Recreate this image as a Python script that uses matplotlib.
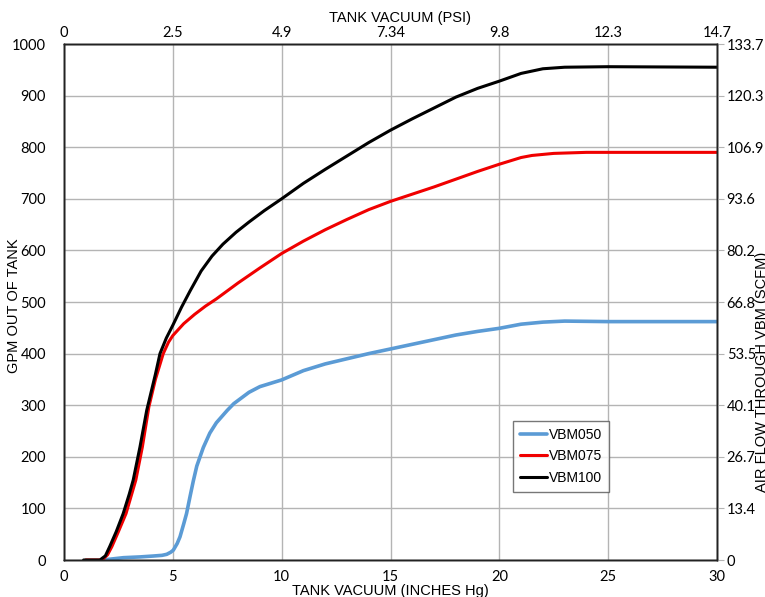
import matplotlib.pyplot as plt
from matplotlib.ticker import FixedLocator

# chart values
vac_050 = [1.8, 2.2, 2.73, 3.5, 4.1, 4.5, 4.72, 4.9, 5.02, 5.2, 5.33, 5.5, 5.63, 5.8, 5.94,
           6.1, 6.4, 6.7, 7.0, 7.5, 7.8, 8.5, 9.0, 10, 11, 12, 13, 14, 15, 16, 17, 18, 19,
           20, 21, 22, 23, 25, 30]
gpm_050 = [0, 2, 4.5, 6, 7.7, 9, 11, 15, 19, 32, 45, 70, 90, 125, 153,
           182, 218, 246, 266, 290, 303, 325, 336, 349, 367, 380, 390, 400, 409, 418, 427,
           436, 443, 449, 457, 461, 463, 462, 462]

vac_075 = [1.0, 1.75, 2.0, 2.2, 2.5, 2.85, 3.3, 3.6, 3.9, 4.2, 4.56, 4.8, 5.0, 5.5, 6.0,
           6.5, 7.0, 8.0, 9.0, 10, 11, 12, 13, 14, 15, 16, 17, 18, 19, 20, 21, 21.5, 22.5,
           24, 30]
gpm_075 = [0, 0, 10, 26, 55, 90, 155, 219, 297, 350, 400, 422, 435, 458, 476,
           492, 506, 537, 566, 594, 618, 640, 660, 679, 695, 709, 723, 738, 753, 767, 780,
           784, 788, 790, 790]

vac_100 = [0.9, 1.65, 1.9, 2.1, 2.4, 2.72, 3.0, 3.18, 3.49, 3.8, 4.0, 4.2, 4.41, 4.7, 5.0,
           5.4, 5.8, 6.3, 6.8, 7.3, 7.9, 8.5, 9.2, 10, 11, 12, 13, 14, 15, 16, 17, 18, 19,
           20, 21, 22, 23, 25, 30]
gpm_100 = [0, 0, 8, 26, 55, 90, 128, 155, 219, 290, 325, 360, 400, 430, 455,
           490, 522, 560, 589, 612, 635, 655, 677, 700, 730, 757, 783, 809, 833, 855, 876,
           897, 914, 928, 943, 952, 955, 956, 955]

hg_ticks = [0, 5, 10, 15, 20, 25, 30]
psi_labels = ["0", "2.5", "4.9", "7.34", "9.8", "12.3", "14.7"]
scfm_ticks = [0, 13.4, 26.7, 40.1, 53.5, 66.8, 80.2, 93.6, 106.9, 120.3, 133.7]

tick_font = dict(family="Lato", size=10.5)
label_font = dict(family="Liberation Sans", size=10.5)
spine_col = "#222222"
grid_col = "#b4b4b4"

fig = plt.figure(figsize=(7.65, 5.97), dpi=100)
ax = fig.add_axes([64 / 765, 1 - 560 / 597, 653 / 765, 516 / 597])

line_kw = dict(solid_capstyle="round", solid_joinstyle="round")
ax.plot(vac_050, gpm_050, color="#5b9bd5", lw=2.6, label="VBM050", **line_kw)
ax.plot(vac_075, gpm_075, color="#f00000", lw=2.2, label="VBM075", **line_kw)
ax.plot(vac_100, gpm_100, color="black", lw=2.2, label="VBM100", **line_kw)

ax.set_xlim(0, 30)
ax.set_ylim(0, 1000)
ax.set_xticks(hg_ticks)
ax.set_yticks(range(0, 1001, 100))
ax.grid(True, color=grid_col, lw=1)
ax.set_axisbelow(True)
ax.tick_params(length=0)
ax.tick_params(axis="y", pad=13)
ax.tick_params(axis="x", pad=7)
for t in ax.get_xticklabels() + ax.get_yticklabels():
    t.set_fontfamily(tick_font["family"])
    t.set_fontsize(tick_font["size"])

ax.set_xlabel("TANK VACUUM (INCHES Hg)", **label_font, labelpad=0)
fig.text(14 / 765, 1 - 306 / 597, "GPM OUT OF TANK", rotation=90,
         ha="center", va="center", **label_font)

top = ax.twiny()
top.set_xlim(ax.get_xlim())
top.xaxis.set_major_locator(FixedLocator(hg_ticks))
top.set_xticklabels(psi_labels, **tick_font)
top.tick_params(length=0, pad=3)
top.set_xlabel("TANK VACUUM (PSI)", **label_font)
top.xaxis.set_label_coords(0.514, 1.043)

right = ax.twinx()
right.set_ylim(0, 133.7)
right.yaxis.set_major_locator(FixedLocator(scfm_ticks))
right.set_yticklabels([str(v) for v in scfm_ticks], **tick_font)
right.tick_params(length=5, color=grid_col, pad=2)
fig.text(762 / 765, 1 - 372 / 597, "AIR FLOW THROUGH VBM (SCFM)", rotation=90,
         ha="center", va="center", **label_font)

for a in (ax, top, right):
    for s in a.spines.values():
        s.set_color(spine_col)
        s.set_linewidth(1)

leg = ax.legend(loc="upper left", bbox_to_anchor=(0.688, 0.27), frameon=True, fancybox=False,
                prop=dict(family="Liberation Sans", size=10), handlelength=1.9,
                handletextpad=0.15, labelspacing=0.55, borderpad=0.5, borderaxespad=0)
leg.get_frame().set_edgecolor("#555555")
leg.get_frame().set_linewidth(1)

fig.savefig("out.png", dpi=100)
